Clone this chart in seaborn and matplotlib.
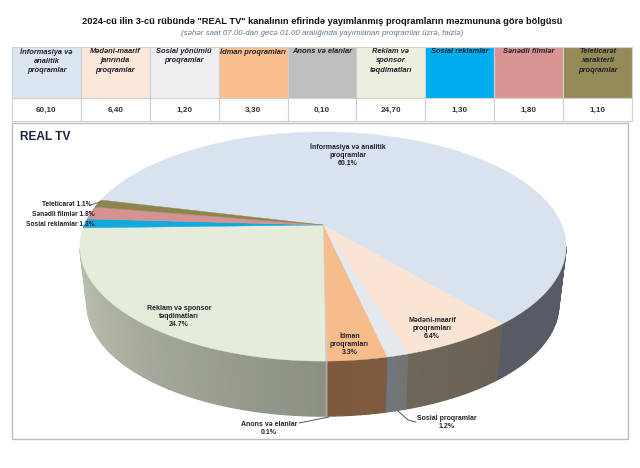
import numpy as np
import matplotlib
matplotlib.use("Agg")
import matplotlib.pyplot as plt
from matplotlib.patches import Polygon, Rectangle
import seaborn as sns

header_labels = ["İnformasiya və\nanalitik\nproqramlar", "Mədəni-maarif\njanrında\nproqramlar",
                 "Sosial yönümlü\nproqramlar", "İdman proqramları", "Anons və elanlar",
                 "Reklam və\nsponsor\ntəqdimatları", "Sosial reklamlar", "Sənədli filmlər",
                 "Teleticarət\nxarakterli\nproqramlar"]
values = [60.1, 6.4, 1.2, 3.3, 0.1, 24.7, 1.3, 1.8, 1.1]
value_labels = ["60,10", "6,40", "1,20", "3,30", "0,10", "24,70", "1,30", "1,80", "1,10"]
header_colors = ["#DCE6F1", "#FCE8DA", "#EFEFF1", "#F9BF8F", "#BEBEBE", "#EBF0DF", "#00AEEF", "#D89594", "#948A55"]
slice_colors = ["#D9E2EF", "#FAE5D5", "#E4E9EF", "#F6BC8B", "#CFCFCF", "#E5ECDA", "#12A8E0", "#D49290", "#8E844F"]
wall_left = ["#565B65", "#6E6659", "#6E7780", "#80593D", "#AAAAAA", "#C6CBBB", "#1A6E90", "#8A5F5E", "#5D5734"]
wall_right = ["#5A5E68", "#6A6254", "#727670", "#7D5A40", "#AAAAAA", "#8A9082", "#1A6E90", "#8A5F5E", "#5D5734"]
title = '2024-cü ilin 3-cü rübündə "REAL TV" kanalının efirində yayımlanmış proqramların məzmununa görə bölgüsü'
subtitle = "(səhər saat 07.00-dan gecə 01.00 aralığında yayımlanan proqramlar üzrə, faizlə)"

sns.set_theme(style="white")
plt.rcParams["font.family"] = ["Liberation Sans", "DejaVu Sans"]
ink = "#20232E"

fig = plt.figure(figsize=(6.4, 4.68), dpi=100, facecolor="white")

# wedge geometry comes from the library's pie layout
helper = fig.add_axes([0, 0, 0.01, 0.01])
wedges, _ = helper.pie(values, startangle=-50 + 360 * 0.601, counterclock=False)
spans = [(w.theta1, w.theta2) for w in wedges]
helper.remove()

ax = fig.add_axes([0, 0, 1, 1])
ax.set_xlim(0, 640)
ax.set_ylim(468, 0)
ax.axis("off")

# perspective disc
AX, AY, A, B, K = 323.0, 225.0, 238.7, 110.5, 0.188
def top_face(deg):
    t = np.radians(deg)
    w = 1 + K * np.sin(t)
    return AX + A * np.cos(t) / w, AY - B * np.sin(t) / w
def bottom_face(deg):
    x, y = top_face(deg)
    return 322 + (x - 322) * 0.97, 246 + (y - 246) * 0.97 + 58.5

ax.text(322, 21.5, title, ha="center", va="center", fontsize=6.65, fontweight="bold", color="#111111")
ax.text(322, 33.5, subtitle, ha="center", va="center", fontsize=5.7, style="italic", color="#5F7590")

# table
n = len(values)
x0, cw = 12.0, 620.0 / n
for i in range(n):
    x = x0 + i * cw
    ax.add_patch(Rectangle((x, 47), cw, 51, fc=header_colors[i], ec="#D0D0D0", lw=0.8))
    ax.add_patch(Rectangle((x, 98), cw, 23, fc="white", ec="#D0D0D0", lw=0.8))
    ax.text(x + cw / 2, 48, header_labels[i], ha="center", va="top", fontsize=5.4, fontweight="bold",
            style="italic", color=ink, linespacing=1.45)
    ax.text(x + cw / 2, 110, value_labels[i], ha="center", va="center", fontsize=5.9, fontweight="bold", color="#333333")

# chart frame
ax.add_patch(Rectangle((12, 123), 616, 316, fc="white", ec="#BDBDBD", lw=1.0))
ax.text(20, 136.5, "REAL TV", ha="left", va="center", fontsize=8.6, fontweight="bold", color="#1C2540")

# side wall, visible lower half of the disc
for i, (t1, t2) in enumerate(spans):
    lo, hi = t1 % 360, t2 % 360
    if hi <= lo:
        hi += 360
    grid = np.linspace(lo, hi, max(int((hi - lo) / 1.5), 2) + 1)
    cl = np.array(matplotlib.colors.to_rgb(wall_left[i]))
    cr = np.array(matplotlib.colors.to_rgb(wall_right[i]))
    for a, b in zip(grid[:-1], grid[1:]):
        m = (a + b) / 2
        if not 192 <= m <= 349:
            continue
        f = float(np.clip((m - lo) / max(hi - lo, 1e-6), 0, 1))
        col = cl * (1 - f) + cr * f
        p = [top_face(a), top_face(b), bottom_face(b), bottom_face(a)]
        ax.add_patch(Polygon(p, closed=True, fc=col, ec=col, lw=0.9))

# top face
for i, (t1, t2) in enumerate(spans):
    arc = np.linspace(t1, t2, max(int(abs(t2 - t1)) * 2, 4))
    pts = [(AX, AY)] + [top_face(a) for a in arc]
    ax.add_patch(Polygon(pts, closed=True, fc=slice_colors[i], ec=slice_colors[i], lw=0.3))

# slice labels
lab = dict(ha="center", va="center", fontsize=5.0, color=ink, fontweight="bold", linespacing=1.2)
ax.text(348, 155, "İnformasiya və analitik\nproqramlar\n60.1%", **lab)
ax.text(432, 329, "Mədəni-maarif\nproqramları\n6.4%", **lab)
ax.text(349.5, 344.5, "İdman\nproqramları\n3.3%", **lab)
ax.text(179, 316.5, "Reklam və sponsor\ntəqdimatları\n24.7%", **lab)
ax.text(269, 428.5, "Anons və elanlar\n0.1%", **lab)
ax.text(446.5, 422.5, "Sosial proqramlar\n1.2%", **lab)
side = dict(ha="right", va="center", fontsize=4.8, color=ink, fontweight="bold")
ax.text(91, 204, "Teleticarət 1.1%", **side)
ax.text(95, 215, "Sənədli filmlər 1.8%", **side)
ax.text(95, 224, "Sosial reklamlar 1.3%", **side)

# leader lines
ax.plot([91, 100], [205, 202], color="#555555", lw=0.6)
ax.plot([299, 329], [423, 417], color="#555555", lw=0.7)
ax.plot([398, 408, 416], [411, 420, 422], color="#555555", lw=0.7)

fig.savefig("out.png", dpi=100, facecolor="white")
